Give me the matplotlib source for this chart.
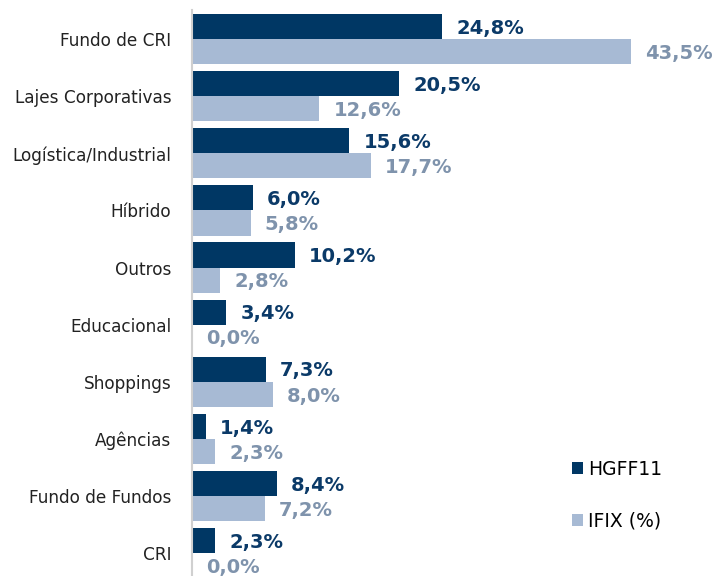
import matplotlib.pyplot as plt
import numpy as np

plt.rcParams['font.family'] = ['DejaVu Sans']

categories = ["Fundo de CRI", "Lajes Corporativas", "Logística/Industrial", "Híbrido",
              "Outros", "Educacional", "Shoppings", "Agências", "Fundo de Fundos", "CRI"]
hgff11 = [24.8, 20.5, 15.6, 6.0, 10.2, 3.4, 7.3, 1.4, 8.4, 2.3]
ifix = [43.5, 12.6, 17.7, 5.8, 2.8, 0.0, 8.0, 2.3, 7.2, 0.0]

dark = "#003764"
light = "#a7bad4"
dark_txt = "#0b3a68"
light_txt = "#7f93ac"

fig = plt.figure(figsize=(7.19, 5.76), dpi=100)
ax = fig.add_axes([192 / 719, 0, 1 - 192 / 719, 566 / 576])

y = np.arange(len(categories))
h = 0.44
b1 = ax.barh(y - h / 2, hgff11, height=h, color=dark, label="HGFF11")
b2 = ax.barh(y + h / 2, ifix, height=h, color=light, label="IFIX (%)")

for yi, v in zip(y, hgff11):
    ax.text(v + 1.4, yi - h / 2 + 0.03, f"{v:.1f}%".replace(".", ","), va="center", ha="left",
            fontsize=14, fontweight="bold", color=dark_txt)
for yi, v in zip(y, ifix):
    ax.text(v + 1.4, yi + h / 2 + 0.03, f"{v:.1f}%".replace(".", ","), va="center", ha="left",
            fontsize=14, fontweight="bold", color=light_txt)

ax.set_xlim(0, 52.2)
ax.set_ylim(9.40, -0.51)
ax.set_yticks(y)
ax.set_yticklabels(categories, fontsize=12.2, color="#222222")
ax.tick_params(axis="y", length=0, pad=15)
ax.set_xticks([])
for s in ["top", "right", "bottom"]:
    ax.spines[s].set_visible(False)
ax.spines["left"].set_color("#d0d0d0")
ax.spines["left"].set_linewidth(1.5)

fig.legend(handles=[b1, b2], loc="upper left", bbox_to_anchor=(555 / 719, 1 - 443 / 576),
           frameon=False, fontsize=13.5, handlelength=0.6, handleheight=0.6,
           handletextpad=0.25, labelspacing=1.75)

fig.savefig("out.png", dpi=100)
